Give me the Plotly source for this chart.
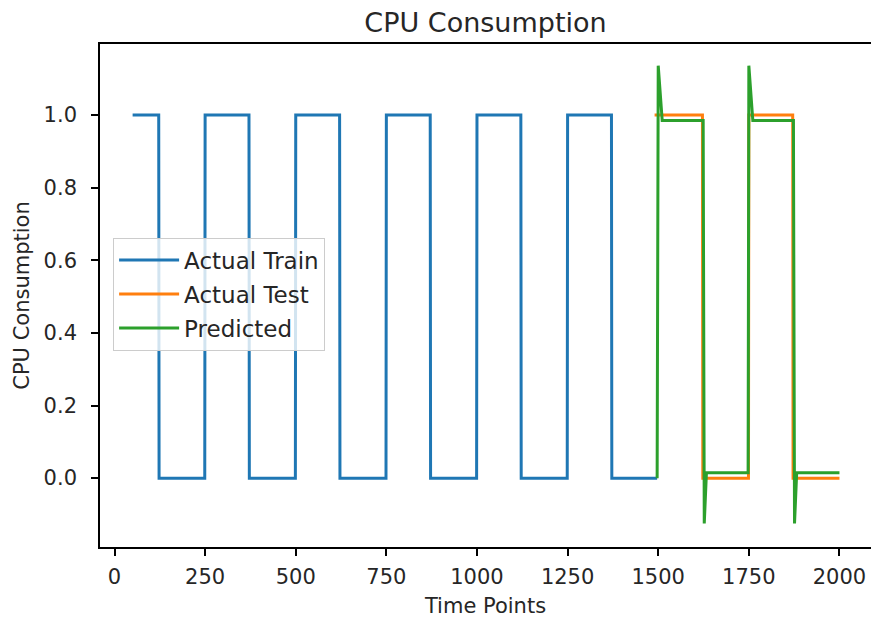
import plotly.graph_objects as go

# Actual train series: breakpoints of the square wave (time point, value)
train_x = [50, 122, 123, 249, 250, 371, 372, 499, 500, 621, 622, 749, 750, 871, 872,
           999, 1000, 1121, 1122, 1249, 1250, 1371, 1372, 1497]
train_y = [1, 1, 0, 0, 1, 1, 0, 0, 1, 1, 0, 0, 1, 1, 0,
           0, 1, 1, 0, 0, 1, 1, 0, 0]

# Actual test series
test_x = [1490, 1622, 1623, 1749, 1750, 1871, 1872, 2000]
test_y = [1, 1, 0, 0, 1, 1, 0, 0]

# Predicted series
pred_x = [1497, 1500, 1511, 1624, 1627, 1633, 1748, 1750, 1761, 1873, 1876, 1882, 2000]
pred_y = [0.0, 1.136, 0.985, 0.985, -0.125, 0.015, 0.015, 1.136, 0.985, 0.985, -0.125, 0.015, 0.015]

x_ticks = [0, 250, 500, 750, 1000, 1250, 1500, 1750, 2000]
y_ticks = [0.0, 0.2, 0.4, 0.6, 0.8, 1.0]

FONT = "DejaVu Sans"
TXT = "#262626"
fig = go.Figure()
fig.add_trace(go.Scatter(x=train_x, y=train_y, mode="lines", name="Actual Train",
                         line=dict(color="#1f77b4", width=3), legendgroup="a"))
fig.add_trace(go.Scatter(x=test_x, y=test_y, mode="lines", name="Actual Test",
                         line=dict(color="#ff7f0e", width=3), legendgroup="b"))
fig.add_trace(go.Scatter(x=pred_x, y=pred_y, mode="lines", name="Predicted",
                         line=dict(color="#2ca02c", width=3), legendgroup="c"))

fig.update_layout(
    width=871, height=619,
    margin=dict(l=100, r=0, t=44, b=72, autoexpand=False),
    paper_bgcolor="white", plot_bgcolor="white",
    font=dict(family=FONT, size=21, color=TXT),
    title=dict(text="CPU Consumption", x=0.5, xanchor="center", xref="paper",
               y=0.964, yref="container", yanchor="middle",
               font=dict(family=FONT, size=27, color=TXT)),
    showlegend=True,
    legend=dict(x=0.017, y=0.615, xanchor="left", yanchor="top",
                bgcolor="rgba(255,255,255,0.8)", bordercolor="#cccccc", borderwidth=1,
                font=dict(family=FONT, size=23, color=TXT),
                tracegroupgap=1, itemwidth=60),
)
fig.update_xaxes(range=[-40, 2087], tickvals=x_ticks, ticktext=[str(v) for v in x_ticks],
                 automargin=False, ticklabelstandoff=3,
                 showgrid=False, zeroline=False, showline=True, linecolor="black", linewidth=1.6,
                 mirror=True, ticks="outside", ticklen=7, tickwidth=1.6, tickcolor="black",
                 title=dict(text="Time Points", font=dict(family=FONT, size=21), standoff=10))
fig.update_yaxes(range=[-0.1897, 1.1958], tickvals=y_ticks, ticktext=[f"{v:.1f}" for v in y_ticks],
                 automargin=False, ticklabelstandoff=10,
                 showgrid=False, zeroline=False, showline=True, linecolor="black", linewidth=1.6,
                 mirror=False, ticks="outside", ticklen=7, tickwidth=1.6, tickcolor="black",
                 title=dict(text="CPU Consumption", font=dict(family=FONT, size=21), standoff=8))

fig.write_html("out.html", config={"displayModeBar": False},
               post_script="document.body.style.margin='0';document.body.style.overflow='hidden';")
